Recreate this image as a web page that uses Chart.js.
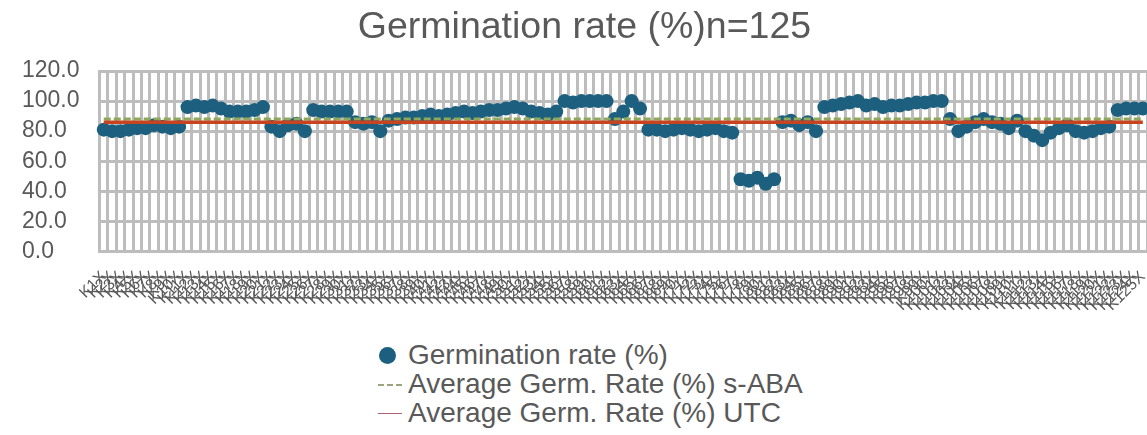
<!DOCTYPE html>
<html>
<head>
<meta charset="utf-8">
<script src="https://cdn.jsdelivr.net/npm/chart.js@4/dist/chart.umd.min.js"></script>
<style>
  html, body { margin: 0; padding: 0; background: #fff; overflow: hidden; }
  #wrap { position: relative; width: 1175px; height: 435px; }
  #chartBox { position: absolute; left: 0; top: 0; width: 1175px; height: 331px; }
  #legend { position: absolute; left: 378px; top: 340px; font-family: "Liberation Sans", Arial, sans-serif;
            font-size: 28px; color: #595959; line-height: 29px; }
  #legend .item { display: flex; align-items: center; white-space: nowrap; }
  #legend .swatch { width: 24px; height: 16px; margin-right: 6px; position: relative; }
</style>
</head>
<body>
<div id="wrap">
  <div id="chartBox"><canvas id="germChart"></canvas></div>
  <div id="legend"></div>
</div>
<script>
// germination rate per sample (125 samples)
const germRate = [
  81, 80, 80, 81, 82, 82, 84, 83, 82, 83,
  96, 97, 96, 97, 95,
  93, 93, 93, 94, 96,
  83, 80, 84, 85, 80,
  94, 93, 93, 93, 93,
  86, 85, 86, 80,
  87, 88, 89, 89, 90, 91, 90, 91, 92, 93, 92, 93, 94, 94, 95, 96, 95, 93, 92, 91, 93,
  100, 99, 100, 100, 100, 100,
  88, 93, 100, 95,
  81, 81, 80, 81, 82, 81, 80, 81, 82, 80, 79,
  48, 47, 49, 45, 48,
  86, 87, 84, 86, 80,
  96, 97, 98, 99, 100, 97, 98, 96, 97, 97, 98, 99, 99, 100, 100,
  88, 80, 83, 86, 88, 86, 85, 82, 87, 80, 77, 74, 79, 82, 84, 80, 79, 80, 82, 83,
  94, 95, 95, 95
];
// sample ids on the x axis (unreadable in the picture, so plain ids)
const sampleIds = germRate.map((_, i) => 'K' + (i + 1) + 'X');
const avgSABA = 88;
const avgUTC = 86;
const seriesNames = ['Germination rate (%)', 'Average Germ. Rate (%) s-ABA', 'Average Germ. Rate (%) UTC'];

const gridGray = '#bdbdbd';
const textGray = '#595959';
const FONT = '"Liberation Sans", Arial, sans-serif';

const ctx = document.getElementById('germChart').getContext('2d');
const chart = new Chart(ctx, {
  type: 'line',
  data: {
    labels: sampleIds,
    datasets: [
      {
        label: seriesNames[0],
        data: germRate,
        showLine: false,
        pointRadius: 7,
        pointBackgroundColor: '#1d5f7e',
        pointBorderColor: '#1d5f7e',
        pointBorderWidth: 0,
        order: 3
      },
      {
        label: seriesNames[1],
        data: germRate.map(() => avgSABA),
        borderColor: '#8fa85a',
        borderWidth: 3,
        borderDash: [7, 3],
        pointRadius: 0,
        order: 2
      },
      {
        label: seriesNames[2],
        data: germRate.map(() => avgUTC),
        borderColor: '#c8431f',
        borderWidth: 3.5,
        pointRadius: 0,
        order: 1
      }
    ]
  },
  options: {
    responsive: true,
    maintainAspectRatio: false,
    animation: false,
    layout: { padding: { left: 22, right: 28, top: 0, bottom: 0 } },
    plugins: {
      legend: { display: false },
      tooltip: { enabled: false },
      title: {
        display: true,
        text: 'Germination rate (%)n=125',
        color: textGray,
        font: { family: FONT, size: 37.5, weight: 'normal' },
        padding: { top: 5, bottom: 21 }
      }
    },
    scales: {
      x: {
        offset: true,
        grid: { offset: true, color: gridGray, lineWidth: 3, drawTicks: false },
        border: { color: gridGray, width: 3 },
        ticks: {
          autoSkip: false,
          minRotation: 45,
          maxRotation: 45,
          padding: 16,
          color: textGray,
          font: { family: FONT, size: 16 }
        }
      },
      y: {
        min: 0,
        max: 120,
        grid: { color: gridGray, lineWidth: 3, drawTicks: false },
        border: { color: gridGray, width: 3 },
        ticks: {
          stepSize: 20,
          autoSkip: false,
          crossAlign: 'far',
          padding: 10,
          color: textGray,
          font: { family: FONT, size: 23 },
          callback: v => Number(v).toFixed(1)
        }
      }
    }
  }
});

// vertical legend built from the datasets
const legendEl = document.getElementById('legend');
chart.data.datasets.forEach(ds => {
  const item = document.createElement('div');
  item.className = 'item';
  const sw = document.createElement('span');
  sw.className = 'swatch';
  if (ds.showLine === false) {
    sw.innerHTML = '<span style="position:absolute;left:1px;top:0;width:17px;height:17px;border-radius:50%;background:' + ds.pointBackgroundColor + '"></span>';
  } else if (ds.borderDash) {
    sw.innerHTML = '<span style="position:absolute;left:0;top:8px;width:24px;border-top:2px dashed #9aa57f"></span>';
  } else {
    sw.innerHTML = '<span style="position:absolute;left:0;top:8px;width:24px;border-top:1.5px solid #b06070"></span>';
  }
  item.appendChild(sw);
  const t = document.createElement('span');
  t.textContent = ds.label;
  item.appendChild(t);
  legendEl.appendChild(item);
});
</script>
</body>
</html>
